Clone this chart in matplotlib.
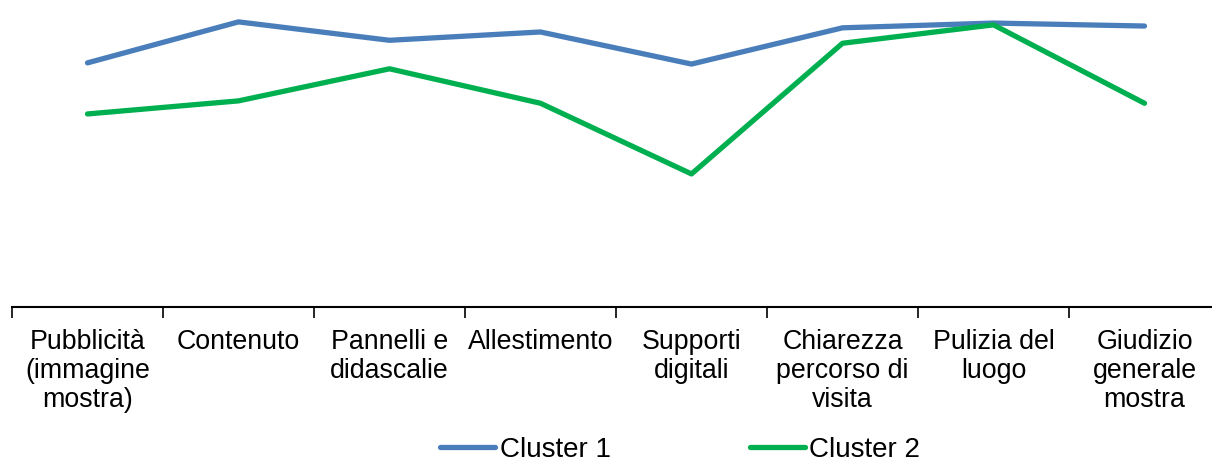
import numpy as np
import matplotlib.pyplot as plt

plt.rcParams['font.family'] = ['Liberation Sans', 'DejaVu Sans']

categories = ["Pubblicità\n(immagine\nmostra)", "Contenuto", "Pannelli e\ndidascalie",
              "Allestimento", "Supporti\ndigitali", "Chiarezza\npercorso di\nvisita",
              "Pulizia del\nluogo", "Giudizio\ngenerale\nmostra"]
cluster1 = [4.11, 4.80, 4.49, 4.63, 4.09, 4.70, 4.78, 4.73]
cluster2 = [3.25, 3.47, 4.01, 3.43, 2.24, 4.44, 4.75, 3.43]

W, H = 1212, 463
fig = plt.figure(figsize=(W / 100, H / 100), dpi=100)
ax = fig.add_axes([12 / W, (H - 307) / H, (1220 - 12) / W, 297 / H])

x = np.arange(len(categories))
ax.plot(x, cluster1, color='#4A7EBB', lw=3.8, solid_capstyle='round', label='Cluster 1')
ax.plot(x, cluster2, color='#00B050', lw=3.8, solid_capstyle='round', label='Cluster 2')

ax.set_xlim(-0.5, len(categories) - 0.5)
ax.set_ylim(0, 5)

for s in ['top', 'right', 'left']:
    ax.spines[s].set_visible(False)
ax.spines['bottom'].set_linewidth(1.5)
ax.set_yticks([])

# boundary ticks (major), labels centred (minor)
ax.set_xticks(np.arange(-0.5, len(categories), 1.0))
ax.set_xticklabels([])
ax.tick_params(axis='x', which='major', length=8, width=1.2, direction='out')
ax.set_xticks(x, minor=True)
ax.set_xticklabels(categories, minor=True, fontsize=19.3, linespacing=1.14)
ax.tick_params(axis='x', which='minor', length=0, pad=16)

# legend sits right at the bottom edge, like the original
fig.legend(loc='center', bbox_to_anchor=(680 / W, (H - 450) / H), ncol=2,
           frameon=False, fontsize=20, handlelength=2.0, handletextpad=0.15,
           columnspacing=5.0, borderpad=0)

fig.savefig('out.png', dpi=100)
